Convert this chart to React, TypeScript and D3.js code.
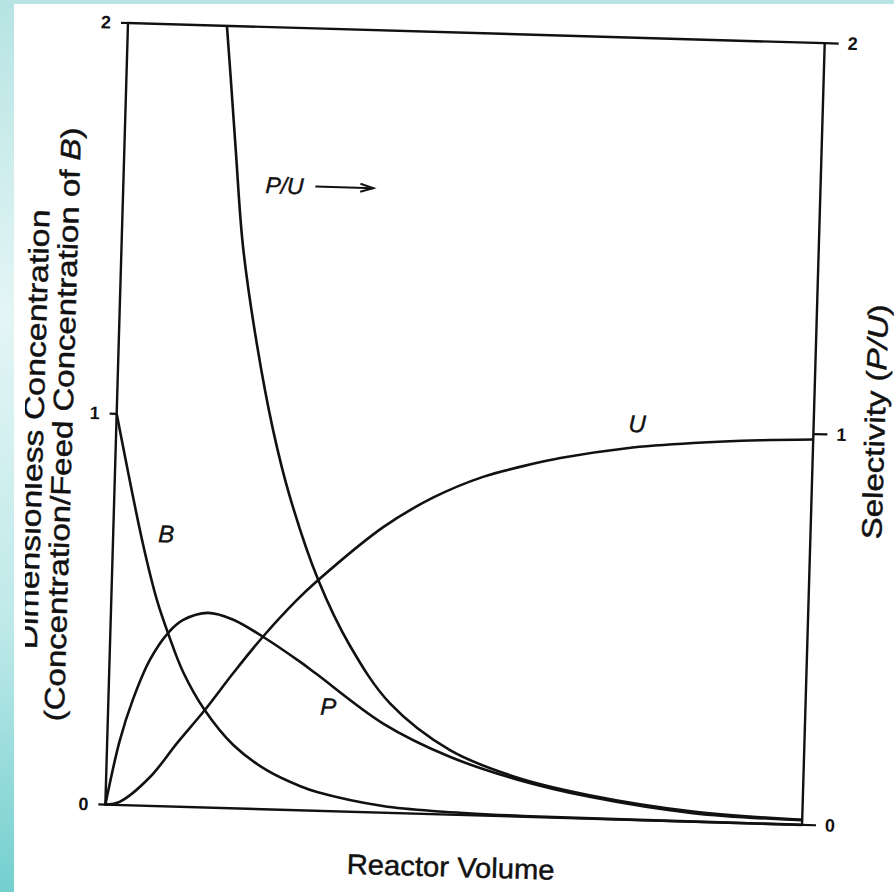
import React from "react";
import * as d3 from "d3";

// Reactor volume (normalised 0..1) vs dimensionless concentration
const seriesB: [number, number][] = [
  [0, 1.0], [0.043, 0.67], [0.066, 0.524], [0.083, 0.442], [0.106, 0.345],
  [0.139, 0.248], [0.181, 0.162], [0.23, 0.1], [0.278, 0.062], [0.303, 0.048],
  [0.398, 0.017], [0.485, 0.007], [0.6, 0.002], [0.8, 0.0005], [1.0, 0],
];
const seriesP: [number, number][] = [
  [0, 0], [0.018, 0.165], [0.035, 0.27], [0.058, 0.374], [0.083, 0.444],
  [0.104, 0.478], [0.139, 0.498], [0.175, 0.483], [0.219, 0.441], [0.273, 0.38],
  [0.298, 0.349], [0.395, 0.228], [0.492, 0.148], [0.589, 0.095], [0.694, 0.056],
  [0.843, 0.022], [1.0, 0.012],
];
const seriesU: [number, number][] = [
  [0, 0], [0.021, 0.009], [0.063, 0.074], [0.1, 0.162], [0.139, 0.25],
  [0.178, 0.346], [0.219, 0.441], [0.266, 0.537], [0.296, 0.59], [0.387, 0.73],
  [0.457, 0.809], [0.528, 0.866], [0.599, 0.903], [0.638, 0.92], [0.733, 0.95],
  [0.828, 0.968], [0.924, 0.98], [1.0, 0.986],
];
const seriesPU: [number, number][] = [
  [0.142, 2.0], [0.15, 1.86], [0.16, 1.68], [0.174, 1.44], [0.198, 1.19],
  [0.225, 0.97], [0.252, 0.8], [0.296, 0.59], [0.344, 0.425], [0.404, 0.28],
  [0.492, 0.165], [0.589, 0.1], [0.694, 0.06], [0.843, 0.026], [1.0, 0.013],
];
const leftTicks = [0, 1, 2];
const rightTicks = [0, 1, 2];

const W = 697;
const H = 782;
const ANGLE = 1.66;
const FONT = "'Liberation Sans', Arial, Helvetica, sans-serif";

export default function App() {
  const x = d3.scaleLinear().domain([0, 1]).range([0, W]);
  const y = d3.scaleLinear().domain([0, 2]).range([H, 0]);
  const line = d3
    .line<[number, number]>()
    .x((d) => x(d[0]))
    .y((d) => y(d[1]))
    .curve(d3.curveCatmullRom.alpha(0.5));

  const frame = `translate(128,23) rotate(${ANGLE})`;
  const ink = "#111";
  const curves = [seriesB, seriesP, seriesU, seriesPU];
  const titleStyle = {
    fontFamily: FONT,
    fontSize: 28,
    fill: ink,
    stroke: ink,
    strokeWidth: 0.45,
  } as const;
  const labelStyle = {
    fontFamily: FONT,
    fontStyle: "italic",
    fontSize: 24,
    fill: ink,
    stroke: ink,
    strokeWidth: 0.4,
  } as const;

  return (
    <svg
      width={894}
      height={892}
      style={{ position: "absolute", left: 0, top: 0, display: "block" }}
    >
      <defs>
        <linearGradient id="band" x1="0" y1="0" x2="0" y2="1">
          <stop offset="0" stopColor="#b6e4e3" />
          <stop offset="0.35" stopColor="#e4f5f5" />
          <stop offset="0.7" stopColor="#bfe9e9" />
          <stop offset="1" stopColor="#74cfcf" />
        </linearGradient>
        <clipPath id="clipL">
          <rect x={25} y={0} width={869} height={892} />
        </clipPath>
      </defs>
      <rect x={0} y={0} width={894} height={892} fill="#ffffff" />
      <rect x={0} y={0} width={14} height={892} fill="url(#band)" />
      <rect x={0} y={0} width={894} height={4} fill="#b8e5e4" />

      <g transform={frame}>
        <rect x={0} y={0} width={W} height={H} fill="none" stroke={ink} strokeWidth={2.4} />
        {leftTicks.map((t) => (
          <g key={"l" + t}>
            <line x1={-7} x2={0} y1={y(t)} y2={y(t)} stroke={ink} strokeWidth={2.2} />
            <text
              x={-22}
              y={y(t)}
              textAnchor="middle"
              dominantBaseline="central"
              fontFamily={FONT}
              fontWeight="bold"
              fontSize={18}
              fill={ink}
            >
              {t}
            </text>
          </g>
        ))}
        {rightTicks.map((t) => (
          <g key={"r" + t}>
            <line x1={W} x2={W + 14} y1={y(t)} y2={y(t)} stroke={ink} strokeWidth={2.2} />
            <text
              x={W + 28}
              y={y(t)}
              textAnchor="middle"
              dominantBaseline="central"
              fontFamily={FONT}
              fontWeight="bold"
              fontSize={18}
              fill={ink}
            >
              {t}
            </text>
          </g>
        ))}
        {curves.map((s, i) => (
          <path key={i} d={line(s) || ""} fill="none" stroke={ink} strokeWidth={2.6} />
        ))}

        <text x={142} y={166} {...labelStyle} fontSize={23}>
          P/U
        </text>
        <line x1={192} x2={250} y1={158} y2={158} stroke={ink} strokeWidth={2} />
        <polyline
          points="237,154 250,158 237,162"
          fill="none"
          stroke={ink}
          strokeWidth={2}
        />
        <text x={45} y={518} {...labelStyle}>
          B
        </text>
        <text x={212} y={686} {...labelStyle}>
          P
        </text>
        <text x={512} y={394} {...labelStyle}>
          U
        </text>

        <text
          x={347}
          y={844}
          textAnchor="middle"
          textLength={208}
          lengthAdjust="spacingAndGlyphs"
          {...titleStyle}
        >
          Reactor Volume
        </text>
        <text
          transform={`translate(768,377) rotate(-90)`}
          textAnchor="middle"
          textLength={235}
          lengthAdjust="spacingAndGlyphs"
          {...titleStyle}
        >
          Selectivity (<tspan fontStyle="italic">P/U</tspan>)
        </text>
        <text
          transform={`translate(-44,403) rotate(-90)`}
          textAnchor="middle"
          textLength={594}
          lengthAdjust="spacingAndGlyphs"
          {...titleStyle}
        >
          (Concentration/Feed Concentration of <tspan fontStyle="italic">B</tspan>)
        </text>
      </g>
      <g clipPath="url(#clipL)">
        <g transform={frame}>
          <text
            transform={`translate(-73,409) rotate(-90)`}
            textAnchor="middle"
            textLength={440}
            lengthAdjust="spacingAndGlyphs"
            {...titleStyle}
          >
            Dimensionless Concentration
          </text>
        </g>
      </g>
    </svg>
  );
}
